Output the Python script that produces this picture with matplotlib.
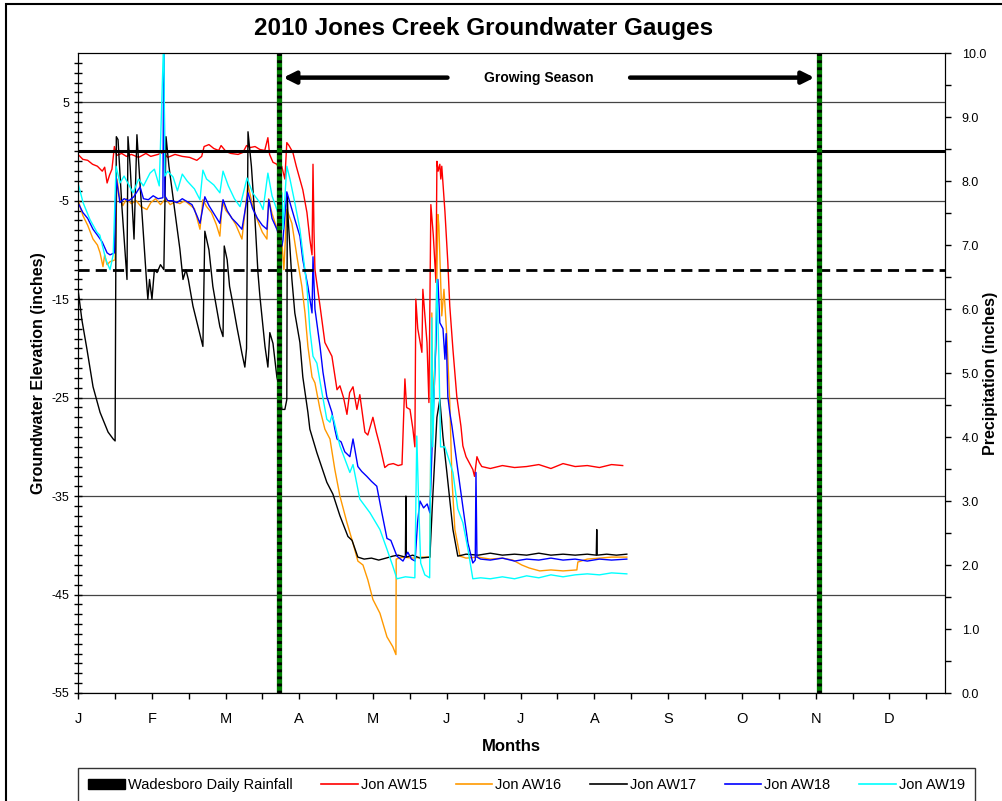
# 2010 Jones Creek groundwater gauges - recreated chart
import matplotlib
matplotlib.use('Agg')
import matplotlib.pyplot as plt
from matplotlib.lines import Line2D
from matplotlib.patches import Patch, Rectangle
import numpy as np

plt.rcParams['font.family'] = ['Liberation Sans', 'DejaVu Sans']

# x values are day of year (0 = Jan 1), y values are inches relative to ground
aw15_day = [0, 2, 4, 6, 8, 10, 11, 12, 13, 14, 15, 16, 18, 20, 22, 25, 28, 30, 33, 35, 37, 40, 43, 46, 49, 51,
            52, 54, 56, 58, 59, 61, 63, 66, 68, 69.5, 71, 73, 75, 77, 78.3, 79, 80.4, 82, 82.4, 84, 85.3, 86.1,
            87, 88.6, 90, 92.7, 94.4, 95.6, 96.5, 96.9, 97.3, 97.7, 99.8, 101.8, 104.7, 106.8, 108, 109.5, 110.9,
            112, 113.4, 114.5, 115, 116.2, 118.3, 119.5, 121.6, 123, 124.5, 126.5, 128, 130, 132, 133.6, 134.8,
            135.5, 136.9, 138.1, 138.9, 139.3, 140.1, 141.8, 142.2, 143.9, 144.7, 145.5, 146.5, 147.6, 148,
            148.5, 149.2, 149.6, 150, 151.3, 152.5, 153.3, 154.6, 156.2, 157.9, 158.7, 160, 162.8, 163.5, 164.5,
            165.5, 166.5, 170, 175, 180, 185, 190, 195, 200, 205, 210, 215, 220, 224.6]
aw15_val = [-0.3, -0.8, -0.9, -1.3, -1.5, -2.0, -1.6, -3.2, -2.4, -1.8, 0.5, -0.4, -0.2, -0.5, -0.3, -0.6, -0.2,
            -0.5, -0.3, -0.1, -0.6, -0.3, -0.5, -0.6, -0.9, -0.5, 0.5, 0.7, 0.3, 0.1, 0.6, 0.0, -0.2, -0.3, -0.1,
            0.6, 0.4, 0.5, 0.2, 0.1, 1.4, -0.3, -1.1, -1.3, -1.5, -1.5, -2.8, 0.9, 0.6, -0.1, -1.5, -3.9, -6.2,
            -8.9, -10.5, -1.3, -8.0, -12.0, -15.7, -19.4, -20.8, -24.2, -23.8, -25.0, -26.7, -24.5, -23.9, -25.5,
            -26.2, -24.7, -28.5, -28.8, -27.0, -28.5, -29.9, -32.1, -31.8, -31.7, -31.9, -31.8, -23.1, -26.0,
            -26.2, -28.2, -30.0, -15.0, -18.0, -20.4, -14.0, -19.4, -25.5, -5.4, -8.5, -13.3, -1.0, -2.0, -1.3,
            -2.8, -1.5, -6.1, -11.3, -15.7, -20.1, -24.9, -27.9, -29.9, -31.0, -32.3, -33.0, -31.0, -31.6, -32.0,
            -32.2, -31.9, -32.1, -32.0, -31.8, -32.2, -31.7, -32.0, -31.9, -32.1, -31.8, -31.9]

aw16_day = [0, 2, 4, 6.2, 8, 9.1, 10.3, 11, 12, 13.2, 15.3, 16.1, 17, 18.5, 20, 22, 24, 26, 28.4, 30, 32, 34, 35.4,
            36.5, 38, 40, 42, 44, 46, 48, 50.3, 51.5, 53, 55, 57, 58.5, 59.5, 61, 63, 65, 67.6, 70.1, 72, 74, 76,
            77.9, 78.6, 80, 82, 84.1, 84.9, 86.1, 88.2, 90.3, 92.3, 93.6, 94.8, 96.5, 97.7, 99.8, 101.8, 103.9,
            105.9, 108, 110.9, 113.4, 115.4, 117.5, 119.5, 121.6, 124.5, 127.4, 129.8, 131.1, 131.2, 134, 138,
            142, 145.1, 145.9, 146.3, 147.5, 148.4, 148.8, 150, 150.9, 152.1, 153.3, 154.2, 155.4, 157.5, 160,
            165, 170, 175, 179.3, 183, 186, 190.4, 195, 200, 205.7, 206.1, 210, 215, 220, 226.3]
aw16_val = [-4.9, -6.5, -7.5, -8.9, -9.5, -10.3, -11.7, -10.5, -11.5, -11.2, -11.0, -2.8, -4.5, -5.5, -4.8, -5.3,
            -5.0, -5.6, -5.9, -5.2, -4.8, -5.4, -5.0, -4.9, -5.4, -5.1, -5.3, -5.0, -5.4, -5.8, -7.9, -4.9, -5.6,
            -6.2, -7.4, -8.6, -5.1, -6.0, -6.6, -7.4, -8.9, -3.4, -5.5, -7.0, -8.2, -8.9, -4.8, -6.3, -7.8, -9.3,
            -12.0, -5.9, -7.3, -10.7, -13.7, -16.4, -19.8, -22.9, -23.5, -26.2, -28.2, -29.2, -32.3, -35.0, -37.7,
            -39.8, -41.6, -42.0, -43.5, -45.5, -46.9, -49.3, -50.3, -51.1, -41.4, -41.2, -41.3, -41.2, -41.2,
            -16.4, -25.9, -20.0, -6.4, -7.5, -16.7, -14.0, -18.8, -25.5, -33.3, -38.4, -41.1, -41.3, -41.2, -41.4,
            -41.3, -41.5, -42.0, -42.3, -42.6, -42.5, -42.6, -42.5, -41.7, -41.4, -41.3, -41.2, -41.2]

aw17_day = [0, 1.6, 3.7, 6.2, 9.1, 12.4, 14.5, 15.3, 15.8, 16.5, 18.1, 20.2, 20.6, 21.5, 23.1, 24.3, 25.5, 28.4,
            28.8, 29.5, 30.5, 31.5, 32.6, 34, 35.4, 36.3, 37.5, 40, 42, 43.3, 44.5, 45.5, 47.4, 49.5, 51.5, 52.3,
            54, 55.6, 56.5, 58.5, 59.8, 60.3, 61.5, 62.5, 63.5, 65.5, 67.6, 68.8, 69.5, 70.1, 71.5, 73, 74.2, 75,
            77.1, 78.3, 79.1, 80.4, 82, 82.9, 84.1, 85.3, 86.1, 86.3, 86.6, 88.2, 89.4, 91.5, 92.7, 94.8, 95.6,
            98.5, 102.6, 105.1, 108, 111.3, 113, 115.4, 118, 121, 124, 127, 129.8, 132, 135, 135.2, 135.4, 138,
            141, 145.1, 146.3, 148, 149.2, 150.5, 152.1, 154.6, 156.6, 160, 165, 170, 175, 180, 185, 190, 195,
            200, 205, 210, 213.7, 213.9, 214.1, 218, 222, 226.3]
aw17_val = [-14.0, -17.1, -20.1, -23.9, -26.5, -28.5, -29.2, -29.4, 1.5, 1.2, -5.6, -13.0, 1.5, -1.5, -8.9, 1.7,
            -3.0, -13.7, -15.0, -13.0, -15.0, -12.0, -12.3, -11.5, -12.0, 1.5, -1.5, -6.2, -9.9, -13.0, -12.0,
            -13.0, -15.7, -17.8, -19.8, -8.1, -10.0, -13.7, -15.0, -17.8, -18.8, -9.6, -11.0, -13.7, -15.0, -17.8,
            -20.5, -21.9, -20.0, 2.0, -1.5, -7.0, -12.3, -14.7, -19.8, -21.9, -18.4, -19.5, -22.9, -23.9, -26.2,
            -26.2, -25.2, -4.6, -6.6, -13.0, -16.4, -19.4, -22.9, -26.5, -28.2, -30.6, -33.6, -34.8, -37.0, -39.1,
            -39.5, -41.2, -41.4, -41.3, -41.5, -41.3, -41.1, -41.0, -41.2, -35.0, -41.2, -41.0, -41.3, -41.2,
            -35.0, -27.0, -25.2, -29.0, -32.6, -38.4, -41.1, -40.9, -41.0, -40.8, -41.0, -40.9, -41.0, -40.8,
            -41.0, -40.9, -41.0, -40.9, -41.0, -38.4, -41.0, -40.9, -41.0, -40.9]

aw18_day = [0, 2, 4, 6.2, 8, 10, 12, 13.2, 15, 15.7, 17.3, 19, 21, 23, 25.6, 27, 29, 31, 33, 35, 35.4, 35.8, 37,
            39, 40.8, 43, 45, 47, 49, 50.3, 52.3, 54, 56, 58.5, 59.8, 61.5, 63.5, 65.5, 67.6, 70.1, 72, 74, 76,
            77.9, 78.7, 80, 82, 84.1, 84.5, 86.1, 87.4, 89.4, 91.5, 92.7, 94.8, 96.5, 96.9, 97.7, 99.8, 101, 102.6,
            104.7, 105.9, 106.8, 108.5, 110, 112.1, 113.4, 115.4, 117, 119.1, 121, 123.2, 125.3, 127.4, 129, 131.5,
            134, 136, 137.5, 139, 140, 141, 142.5, 144, 145.1, 146, 147.5, 148.4, 149.2, 150.5, 151.3, 151.8,
            152.5, 153.3, 154.2, 156.2, 158.7, 160.8, 162.8, 163.8, 164.1, 164.5, 166, 170, 175, 180, 185, 190,
            195, 200, 205, 210, 215, 220, 226.3]
aw18_val = [-5.2, -6.2, -6.8, -7.9, -8.5, -9.2, -10.3, -10.5, -10.3, -2.6, -5.2, -4.8, -5.0, -4.6, -3.6, -4.8,
            -4.9, -4.5, -4.8, -4.7, 12.0, -4.5, -5.0, -5.0, -5.2, -4.8, -5.1, -5.4, -6.5, -7.3, -4.6, -5.5, -6.3,
            -7.3, -4.9, -6.0, -6.8, -7.3, -7.9, -4.2, -5.8, -6.8, -7.5, -7.9, -4.9, -6.8, -7.9, -9.6, -9.0, -4.1,
            -5.2, -6.9, -8.6, -11.0, -13.7, -16.4, -10.7, -16.0, -19.8, -22.4, -24.9, -26.5, -28.2, -29.2, -29.5,
            -30.5, -31.0, -29.2, -32.0, -32.5, -33.0, -33.5, -34.0, -36.7, -39.3, -39.5, -41.1, -41.6, -40.7,
            -41.4, -41.6, -37.7, -35.5, -36.2, -35.8, -36.7, -30.0, -20.0, -13.0, -17.4, -18.0, -21.1, -18.5,
            -24.9, -26.5, -27.9, -31.6, -36.1, -39.8, -41.8, -41.5, -32.6, -41.2, -41.4, -41.5, -41.3, -41.6,
            -41.4, -41.5, -41.3, -41.5, -41.4, -41.6, -41.4, -41.5, -41.4]

aw19_day = [0, 2.1, 4.9, 7.8, 9, 11.5, 13.2, 14.5, 15.7, 17.3, 19, 22.7, 25, 27, 29.7, 31.5, 33.5, 35.4, 35.8, 37,
            39.2, 41, 43, 45, 48, 50.3, 51.5, 53, 56, 58.5, 59.8, 62, 64.5, 66.8, 69.7, 72, 75, 76.3, 78.3, 80,
            82.4, 84.1, 84.5, 86.1, 87.4, 89.4, 91.5, 92.7, 94.4, 95.6, 96.9, 98.5, 100.6, 102.6, 103.9, 104.7,
            105.5, 108, 112.1, 113.4, 116.2, 120.4, 124.5, 127.4, 129.8, 131.5, 135, 138.9, 139.7, 140.5, 141.3,
            143, 145, 145.9, 146.3, 148, 148.8, 149.5, 150.3, 151.3, 154.6, 156.6, 158.7, 160.8, 162.8, 166, 170,
            175, 180, 185, 190, 195, 200, 205, 210, 215, 220, 226.3]
aw19_val = [-3.2, -5.2, -6.9, -8.2, -8.5, -11.0, -12.0, -10.5, -1.5, -3.2, -2.5, -4.2, -2.8, -3.5, -2.2, -1.8,
            -3.5, 12.0, -2.5, -2.0, -2.6, -4.0, -2.3, -3.0, -3.8, -4.9, -1.9, -2.8, -3.4, -4.2, -2.0, -3.5, -4.8,
            -5.6, -2.7, -4.2, -5.2, -5.9, -2.2, -4.5, -6.2, -4.2, -7.9, -1.5, -2.8, -5.2, -7.9, -10.3, -13.7,
            -18.1, -20.8, -21.5, -24.5, -27.2, -27.5, -26.8, -27.3, -29.9, -32.6, -31.8, -35.3, -36.7, -38.4,
            -40.4, -42.1, -43.4, -43.2, -43.3, -28.9, -36.0, -41.8, -43.0, -43.3, -16.9, -30.0, -13.0, -20.8,
            -30.0, -30.0, -30.0, -32.6, -36.3, -37.7, -40.4, -43.4, -43.3, -43.4, -43.2, -43.4, -43.1, -43.3,
            -43.0, -43.2, -43.0, -42.9, -43.0, -42.8, -42.9]

# Wadesboro daily rainfall: no bars visible on the chart
rain_day = []
rain_in = []

month_labels = ['J', 'F', 'M', 'A', 'M', 'J', 'J', 'A', 'S', 'O', 'N', 'D']
season_start, season_end = 82.9, 305.4
ground_level = 0
wetland_level = -12

fig = plt.figure(figsize=(10.02, 8.01), dpi=100)
ax = fig.add_axes([78 / 1002, 1 - 693 / 801, (945 - 78) / 1002, (693 - 53) / 801])
ax2 = ax.twinx()

ax2.bar(rain_day, rain_in, width=1, color='black')

series = [(aw15_day, aw15_val, '#FF0000', 'Jon AW15'),
          (aw16_day, aw16_val, '#FF9900', 'Jon AW16'),
          (aw17_day, aw17_val, '#000000', 'Jon AW17'),
          (aw18_day, aw18_val, '#0000FF', 'Jon AW18'),
          (aw19_day, aw19_val, '#00FFFF', 'Jon AW19')]
for d, v, c, lab in series:
    ax.plot(d, v, color=c, lw=1.0, zorder=3)

ax.axhline(ground_level, color='black', lw=2.2, zorder=4)
ax.axhline(wetland_level, color='black', lw=2.0, dashes=(4, 2.2), zorder=4)
for xs in (season_start, season_end):
    ax.axvline(xs, color='#008000', lw=3.8, zorder=5)
    ax.axvline(xs, color='black', lw=3.4, dashes=(0.6, 0.9), zorder=6)

ax.annotate('', xy=(season_start + 0.6, 7.5), xytext=(153.5, 7.5),
            arrowprops=dict(arrowstyle='-|>', lw=3.2, color='black', mutation_scale=18), zorder=6)
ax.annotate('', xy=(season_end - 0.6, 7.5), xytext=(226.5, 7.5),
            arrowprops=dict(arrowstyle='-|>', lw=3.2, color='black', mutation_scale=18), zorder=6)
ax.text(190, 7.5, 'Growing Season', ha='center', va='center', fontsize=10, fontweight='bold', zorder=6)

ax.set_xlim(0, 357.5)
ax.set_ylim(-55, 10)
ax2.set_ylim(0, 10)

ax.set_xticks([i * 365 / 12 for i in range(12)])
ax.set_xticks([i * 365 / 12 + 365 / 24 for i in range(12)], minor=True)
ax.set_xticklabels(month_labels, fontsize=10.5)
ax.tick_params(axis='x', which='both', direction='out', length=4, width=1, pad=10)

ax.set_yticks(np.arange(-55, 6, 10))
ax.set_yticks(np.arange(-55, 10, 1), minor=True)
ax.set_yticklabels([str(v) for v in range(-55, 6, 10)], fontsize=9)
ax.tick_params(axis='y', which='both', direction='inout', length=6, width=1)
ax.grid(axis='y', which='major', color='#444444', lw=0.9, zorder=1)

ax2.set_yticks(np.arange(0, 10.1, 1))
ax2.set_yticks(np.arange(0.5, 10, 1), minor=True)
ax2.set_yticklabels(['%.1f' % v for v in np.arange(0, 10.1, 1)], fontsize=9)
ax2.tick_params(axis='y', which='both', direction='out', length=4, width=1, pad=8)

ax.set_ylabel('Groundwater Elevation (inches)', fontsize=11.5, fontweight='bold', labelpad=4)
fig.text(991 / 1002, 1 - 373 / 801, 'Precipitation (inches)', rotation=90, ha='center', va='center',
         fontsize=11.5, fontweight='bold')
ax.set_xlabel('Months', fontsize=12, fontweight='bold', labelpad=9)
fig.text(484 / 1002, 1 - 28 / 801, '2010 Jones Creek Groundwater Gauges', ha='center', va='center',
         fontsize=17.5, fontweight='bold')

handles = [Patch(facecolor='black', edgecolor='black', label='Wadesboro Daily Rainfall')]
for d, v, c, lab in series:
    handles.append(Line2D([], [], color=c, lw=1.2, label=lab))
fig.legend(handles=handles, loc='upper left', ncol=6, mode='expand',
           bbox_to_anchor=(78 / 1002, 1 - 768 / 801 - 0.05, (975 - 78) / 1002, 0.05),
           fontsize=10.5, frameon=True, fancybox=False, edgecolor='black', borderaxespad=0,
           handlelength=2.5, handletextpad=0.2, columnspacing=1.0, borderpad=0.7)

fig.patches.append(Rectangle((6 / 1002, -0.05), 1.0, 1 - 4 / 801 + 0.05, transform=fig.transFigure,
                             fill=False, edgecolor='black', lw=1.5))

fig.savefig('out.png', dpi=100)
